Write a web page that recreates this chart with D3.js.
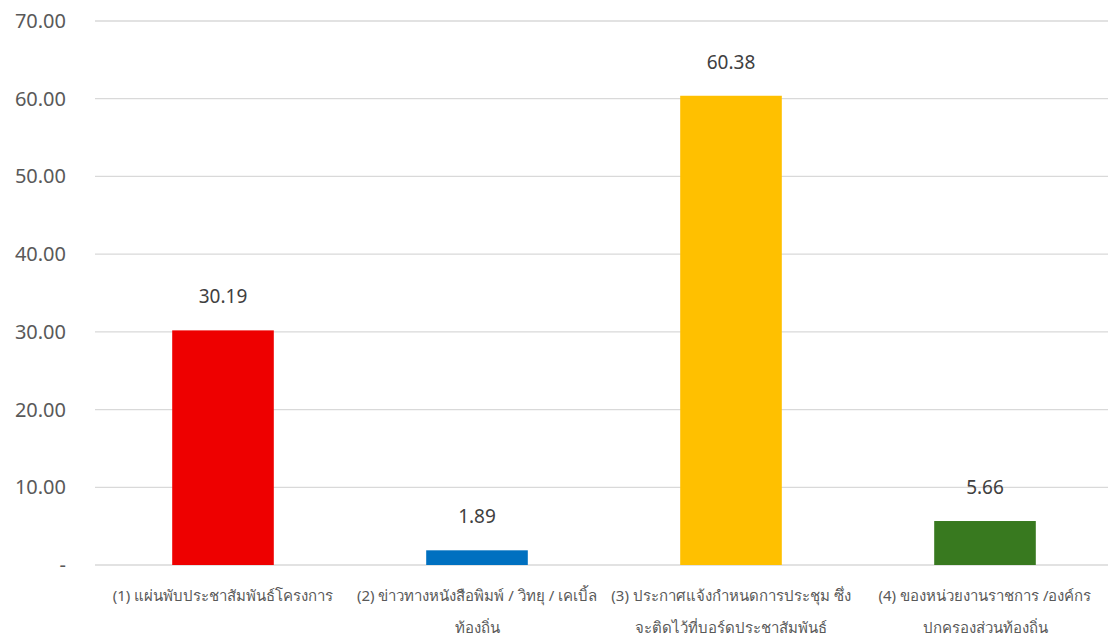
<!DOCTYPE html>
<html>
<head>
<meta charset="utf-8">
<script src="https://cdn.jsdelivr.net/npm/d3@7"></script>
<style>
body { margin: 0; background: #fff; }
svg text { font-family: "Noto Sans", "Liberation Sans", sans-serif; }
</style>
</head>
<body>
<div id="chart"></div>
<script>
var categories = [
    ["(1) แผ่นพับประชาสัมพันธ์โครงการ"],
    ["(2) ข่าวทางหนังสือพิมพ์ / วิทยุ / เคเบิ้ล", "ท้องถิ่น"],
    ["(3) ประกาศแจ้งกำหนดการประชุม ซึ่ง", "จะติดไว้ที่บอร์ดประชาสัมพันธ์"],
    ["(4) ของหน่วยงานราชการ /องค์กร", "ปกครองส่วนท้องถิ่น"]
];
var values = [30.19, 1.89, 60.38, 5.66];
var colors = ["#EE0000", "#0070C0", "#FFC000", "#38791F"];
var yTicks = [0, 10, 20, 30, 40, 50, 60, 70];

var width = 1108, height = 641;
var margin = {top: 21, right: 0, bottom: 76, left: 95};

var svg = d3.select("#chart").append("svg")
    .attr("width", width)
    .attr("height", height);

// band range runs a little past the right edge so bars land where the original puts them
var x = d3.scaleBand()
    .domain(d3.range(categories.length))
    .range([margin.left + 1, width + 4])
    .paddingInner(0.6)
    .paddingOuter(0.3);

var y = d3.scaleLinear()
    .domain([0, 70])
    .range([height - margin.bottom, margin.top]);

// gridlines
svg.selectAll(".grid")
    .data(yTicks)
    .enter()
    .append("line")
    .attr("x1", margin.left)
    .attr("x2", width - margin.right)
    .attr("y1", function (d) { return y(d); })
    .attr("y2", function (d) { return y(d); })
    .attr("stroke", "#d9d9d9")
    .attr("stroke-width", 1.3);

svg.selectAll(".ylab")
    .data(yTicks)
    .enter()
    .append("text")
    .attr("x", 66)
    .attr("y", function (d) { return y(d); })
    .attr("dy", "0.35em")
    .attr("text-anchor", "end")
    .attr("fill", "#595959")
    .style("font-size", "20px")
    .text(function (d) { return d === 0 ? "-" : d.toFixed(2); });

svg.selectAll(".bar")
    .data(values)
    .enter()
    .append("rect")
    .attr("x", function (d, i) { return x(i); })
    .attr("width", x.bandwidth())
    .attr("y", function (d) { return y(d); })
    .attr("height", function (d) { return y(0) - y(d); })
    .attr("fill", function (d, i) { return colors[i]; });

svg.selectAll(".val")
    .data(values)
    .enter()
    .append("text")
    .attr("x", function (d, i) { return x(i) + x.bandwidth() / 2; })
    .attr("y", function (d) { return y(d) - 27; })
    .attr("text-anchor", "middle")
    .attr("fill", "#404040")
    .style("font-size", "19px")
    .text(function (d) { return d.toFixed(2); });

var cat = svg.selectAll(".cat")
    .data(categories)
    .enter()
    .append("text")
    .attr("text-anchor", "middle")
    .attr("fill", "#595959")
    .style("font-size", "15px");

cat.selectAll("tspan")
    .data(function (d, i) { return d.map(function (t) { return {t: t, i: i}; }); })
    .enter()
    .append("tspan")
    .attr("x", function (d) { return x(d.i) + x.bandwidth() / 2; })
    .attr("y", function (d, j) { return 601 + j * 32; })
    .text(function (d) { return d.t; });
</script>
</body>
</html>
